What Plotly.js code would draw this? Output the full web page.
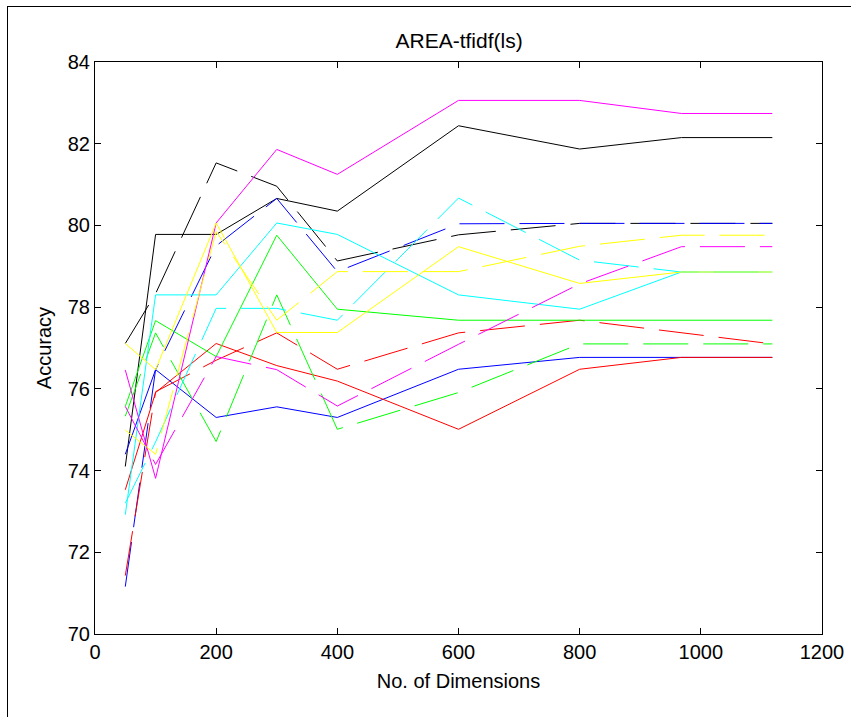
<!DOCTYPE html>
<html>
<head>
<meta charset="utf-8">
<script src="https://cdn.plot.ly/plotly-3.0.1.min.js"></script>
<style>
  html, body { margin: 0; padding: 0; background: #fff; }
  #wrap { position: relative; width: 851px; height: 717px; overflow: hidden; }
  #chart { position: absolute; left: 0; top: 0; width: 851px; height: 717px; }
  #frame { position: absolute; left: 7px; top: 6px; width: 900px; height: 800px;
           border-left: 1px solid #000; border-top: 1px solid #000; pointer-events: none; }
</style>
</head>
<body>
<div id="wrap"><div id="chart"></div><div id="frame"></div></div>
<script>
const dims = [50, 100, 200, 300, 400, 600, 800, 968, 1118];

const blackSolid    = [74.10, 79.78, 79.78, 80.66, 80.35, 82.44, 81.87, 82.15, 82.15];
const blackDashed   = [77.11, 78.33, 81.53, 80.96, 79.13, 79.77, 80.05, 80.05, 80.05];
const blueSolid     = [74.40, 76.47, 75.30, 75.56, 75.30, 76.48, 76.77, 76.77, 76.77];
const blueDashed    = [71.16, 76.47, 79.50, 80.66, 78.87, 80.04, 80.05, 80.05, 80.05];
const redSolid      = [73.53, 75.91, 77.11, 76.57, 76.19, 75.01, 76.48, 76.77, 76.77];
const redDashed     = [71.43, 75.93, 76.70, 77.37, 76.48, 77.37, 77.68, 77.38, 77.10];
const greenSolid    = [75.57, 77.67, 76.79, 79.76, 77.95, 77.68, 77.68, 77.68, 77.68];
const greenDashed   = [75.33, 77.37, 74.71, 78.30, 75.01, 75.91, 77.10, 77.10, 77.10];
const cyanSolid     = [72.92, 78.30, 78.30, 80.06, 79.78, 78.30, 77.95, 78.86, 78.86];
const cyanDashed    = [73.20, 74.70, 77.97, 77.97, 77.68, 80.67, 79.15, 78.86, 78.86];
const magentaSolid  = [76.46, 73.81, 80.06, 81.86, 81.25, 83.06, 83.06, 82.74, 82.74];
const magentaDashed = [75.57, 74.15, 76.79, 76.47, 75.58, 77.09, 78.57, 79.48, 79.48];
const yellowSolid   = [77.11, 76.47, 80.06, 77.38, 77.38, 79.48, 78.58, 78.86, 78.86];
const yellowDashed  = [74.99, 74.40, 79.85, 77.68, 78.87, 78.87, 79.49, 79.76, 79.76];

const xTicks = [0, 200, 400, 600, 800, 1000, 1200];
const yTicks = [70, 72, 74, 76, 78, 80, 82, 84];

const series = [
  [blackSolid, '#000000', 'solid'], [blackDashed, '#000000', 'dash'],
  [blueSolid, '#0000ff', 'solid'], [blueDashed, '#0000ff', 'dash'],
  [redSolid, '#ff0000', 'solid'], [redDashed, '#ff0000', 'dash'],
  [greenSolid, '#00ff00', 'solid'], [greenDashed, '#00ff00', 'dash'],
  [cyanSolid, '#00ffff', 'solid'], [cyanDashed, '#00ffff', 'dash'],
  [magentaSolid, '#ff00ff', 'solid'], [magentaDashed, '#ff00ff', 'dash'],
  [yellowSolid, '#ffff00', 'solid'], [yellowDashed, '#ffff00', 'dash']
];

const traces = series.map(([y, c, d]) => ({
  x: dims, y: y, type: 'scatter', mode: 'lines',
  line: { color: c, width: 1, dash: d === 'dash' ? '45px,15px' : 'solid' },
  hoverinfo: 'skip'
}));

const font = { family: 'Liberation Sans, Arial, sans-serif', color: '#000' };
const axisCommon = {
  showline: true, linecolor: '#000', linewidth: 1, mirror: 'ticks',
  ticks: 'inside', ticklen: 6, tickwidth: 1, tickcolor: '#000',
  showgrid: false, zeroline: false, tickfont: Object.assign({ size: 20 }, font)
};

const layout = {
  width: 851, height: 717,
  margin: { l: 95, r: 29, t: 62, b: 83 },
  paper_bgcolor: '#fff', plot_bgcolor: '#fff',
  showlegend: false, hovermode: false,
  title: { text: 'AREA-tfidf(ls)', font: Object.assign({ size: 21 }, font), x: 0.5395, xanchor: 'center', y: 0.944, yanchor: 'middle' },
  xaxis: Object.assign({}, axisCommon, {
    range: [0, 1200], tickvals: xTicks, ticktext: xTicks.map(String),
    title: { text: 'No. of Dimensions', font: Object.assign({ size: 20 }, font), standoff: 11 }
  }),
  yaxis: Object.assign({}, axisCommon, {
    range: [70, 84], tickvals: yTicks, ticktext: yTicks.map(String),
    title: { text: 'Accuracy', font: Object.assign({ size: 20 }, font), standoff: 10 }
  })
};

Plotly.newPlot('chart', traces, layout, { staticPlot: true, displayModeBar: false });
</script>
</body>
</html>
